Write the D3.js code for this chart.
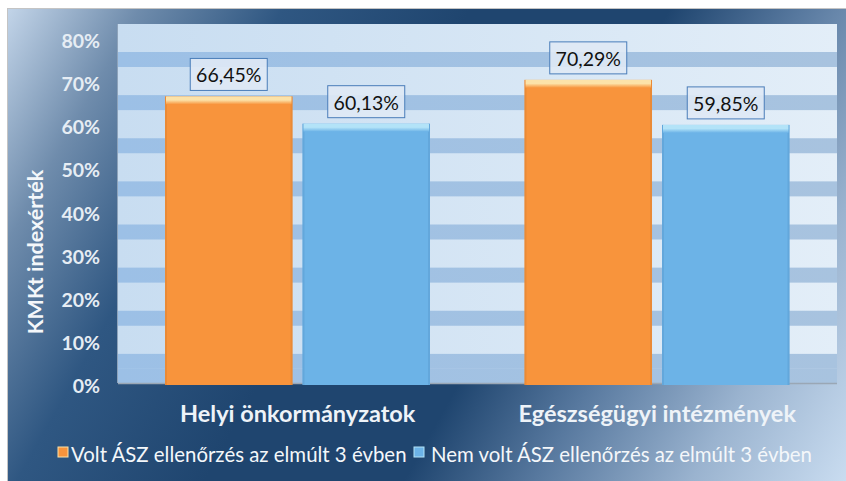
<!DOCTYPE html>
<html><head><meta charset="utf-8">
<script src="https://cdn.jsdelivr.net/npm/d3@7"></script>
<style>html,body{margin:0;padding:0;background:#fff;overflow:hidden}</style>
</head><body>
<svg id="c" width="846" height="481"></svg>
<script>
const categories = ["Helyi önkormányzatok", "Egészségügyi intézmények"];
const seriesNames = ["Volt ÁSZ ellenőrzés az elmúlt 3 évben", "Nem volt ÁSZ ellenőrzés az elmúlt 3 évben"];
const voltValues = [66.45, 70.29];
const nemVoltValues = [60.13, 59.85];
const valueLabels = [["66,45%", "60,13%"], ["70,29%", "59,85%"]];
const tickValues = [0, 10, 20, 30, 40, 50, 60, 70, 80];
const tickLabels = ["0%", "10%", "20%", "30%", "40%", "50%", "60%", "70%", "80%"];
const axisTitle = "KMKt indexérték";

const svg = d3.select("#c");
const defs = svg.append("defs");
const F = "Lato, 'Open Sans', sans-serif";

// background gradient
const bg = defs.append("linearGradient").attr("id","bg").attr("gradientUnits","userSpaceOnUse")
  .attr("x1",7).attr("y1",8).attr("x2",846).attr("y2",481);
[[0,"#c3d5e9"],[0.12,"#6f8cac"],[0.25,"#2f5782"],[0.42,"#1f456f"],[0.6,"#1f456f"],[0.72,"#58799f"],[0.86,"#9ab3cf"],[1,"#c9dcf0"]]
  .forEach(s=>bg.append("stop").attr("offset",s[0]).attr("stop-color",s[1]));
const gl = defs.append("linearGradient").attr("id","light").attr("x1",0).attr("x2",1).attr("y1",0).attr("y2",0);
gl.append("stop").attr("offset",0).attr("stop-color","#c8ddf1");
gl.append("stop").attr("offset",1).attr("stop-color","#e3eef8");
const gd = defs.append("linearGradient").attr("id","dark").attr("x1",0).attr("x2",1).attr("y1",0).attr("y2",0);
gd.append("stop").attr("offset",0).attr("stop-color","#9cc0e6");
gd.append("stop").attr("offset",1).attr("stop-color","#a8c3df");

const colors = {main:["#f8943c","#6cb3e7"], top:["#fce2a8","#b3e3f8"], edge:["#dc7f30","#5a9bd0"]};
colors.main.forEach((c,i)=>{
  const g = defs.append("linearGradient").attr("id","top"+i).attr("x1",0).attr("x2",0).attr("y1",0).attr("y2",1);
  g.append("stop").attr("offset",0).attr("stop-color",colors.top[i]);
  g.append("stop").attr("offset",0.45).attr("stop-color",colors.top[i]);
  g.append("stop").attr("offset",1).attr("stop-color",c);
});

svg.append("rect").attr("x",7.5).attr("y",8.5).attr("width",850).attr("height",480)
  .attr("fill","url(#bg)").attr("stroke","#c4c4c4");

const plot = {left:118, right:837, top:24, bottom:383};
const y = d3.scaleLinear().domain([0,80]).range([385, 40]);
const x0 = d3.scaleBand().domain(categories).range([plot.left, plot.right]).padding(0);
const x1 = d3.scaleBand().domain(seriesNames).range([47, 312]).paddingInner(0.0727);

// plot area
svg.append("rect").attr("x",plot.left).attr("y",plot.top).attr("width",plot.right-plot.left)
  .attr("height",plot.bottom-plot.top).attr("fill","url(#light)");
svg.append("g").selectAll("rect").data(tickValues.filter(v=>v>0)).join("rect")
  .attr("x",plot.left).attr("width",plot.right-plot.left)
  .attr("y",d=>y(d)+12).attr("height",15).attr("fill","url(#dark)");
svg.append("rect").attr("x",plot.left).attr("width",plot.right-plot.left)
  .attr("y",y(10)+27).attr("height",plot.bottom-(y(10)+27)).attr("fill","url(#dark)");
svg.append("line").attr("x1",plot.left).attr("x2",plot.right).attr("y1",plot.bottom+0.5).attr("y2",plot.bottom+0.5)
  .attr("stroke","#9aa7b5").attr("stroke-width",1.5);
svg.append("line").attr("x1",plot.left-0.5).attr("x2",plot.left-0.5).attr("y1",plot.top).attr("y2",plot.bottom)
  .attr("stroke","#8ea3ba").attr("stroke-width",1);

// tick labels
svg.append("g").selectAll("text").data(tickValues).join("text")
  .attr("x",100).attr("y",d=>y(d)+8).attr("text-anchor","end")
  .attr("font-family",F).attr("font-weight","bold").attr("font-size",19.5)
  .attr("fill","#e6edf4").text((d,i)=>tickLabels[i]);

// axis title
svg.append("text").attr("transform","translate(43,252) rotate(-90)").attr("text-anchor","middle")
  .attr("font-family",F).attr("font-weight","bold").attr("font-size",21.5).attr("fill","#f4f7fa").text(axisTitle);

// bars
const rows = categories.map((c,i)=>({cat:c, vals:[voltValues[i], nemVoltValues[i]], labels:valueLabels[i]}));
const groups = svg.append("g").selectAll("g").data(rows).join("g")
  .attr("transform",d=>`translate(${x0(d.cat)},0)`);
groups.each(function(row){
  const g = d3.select(this);
  row.vals.forEach((v,si)=>{
    const bx = x1(seriesNames[si]), bw = x1.bandwidth();
    g.append("rect").attr("x",bx).attr("y",y(v)-2).attr("width",bw).attr("height",y(0)-y(v)+2)
      .attr("fill",colors.main[si]);
    g.append("rect").attr("x",bx).attr("y",y(v)-2).attr("width",2).attr("height",y(0)-y(v)+2).attr("fill",colors.edge[si]).attr("opacity",0.5);
    g.append("rect").attr("x",bx+bw-2).attr("y",y(v)-2).attr("width",2).attr("height",y(0)-y(v)+2).attr("fill",colors.edge[si]).attr("opacity",0.5);
    g.append("rect").attr("x",bx+1).attr("y",y(v)-2).attr("width",bw-2).attr("height",8).attr("fill",`url(#top${si})`);
    // label box
    const cx = bx + bw/2;
    g.append("rect").attr("x",cx-38.5).attr("y",y(v)-40).attr("width",77).attr("height",32)
      .attr("fill","#dfe9f5").attr("fill-opacity",0.9).attr("stroke","#4a7db9").attr("stroke-width",1);
    g.append("text").attr("x",cx).attr("y",y(v)-16).attr("text-anchor","middle")
      .attr("font-family",F).attr("font-size",19.5).attr("fill","#111").text(row.labels[si]);
  });
});

// category labels
svg.append("g").selectAll("text").data(categories).join("text")
  .attr("x",d=>x0(d)+x0.bandwidth()/2).attr("y",422).attr("text-anchor","middle")
  .attr("font-family",F).attr("font-weight","bold").attr("font-size",23.5).attr("fill","#eef3f8").text(d=>d);

// legend
const legX = [58, 414], legTextX = [71, 431];
const leg = svg.append("g").selectAll("g").data(seriesNames).join("g");
leg.append("rect").attr("x",(d,i)=>legX[i]).attr("y",447).attr("width",10).attr("height",10)
  .attr("fill",(d,i)=>colors.main[i]).attr("stroke",(d,i)=>colors.top[i]).attr("stroke-width",1);
leg.append("text").attr("x",(d,i)=>legTextX[i]).attr("y",462)
  .attr("font-family",F).attr("font-size",20.4).attr("fill","#f4f7fa").text(d=>d);
</script>
</body></html>
